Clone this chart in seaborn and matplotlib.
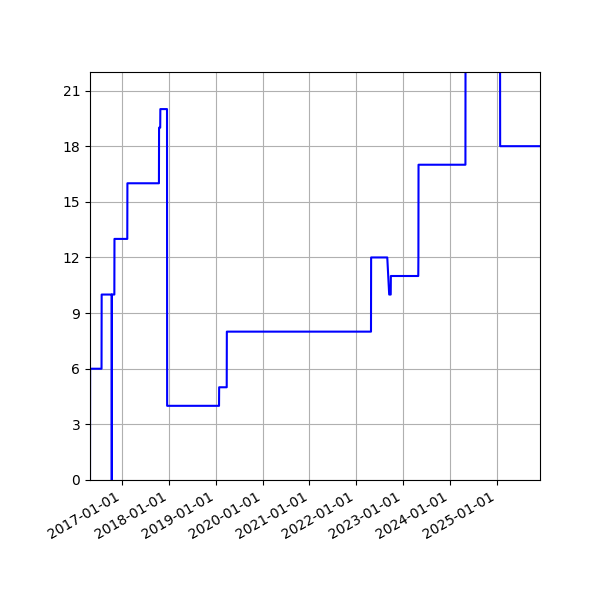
# ==========================
# Step series over time
# ==========================
import pandas as pd
import numpy as np
import matplotlib
matplotlib.use("Agg")
import matplotlib.pyplot as plt
import matplotlib.dates as mdates
import seaborn as sns

# ==========================
# Data
# ==========================
dates = [
    "2016-04-24", "2016-04-25", "2016-07-23", "2016-07-24",
    "2016-10-10", "2016-10-11", "2016-10-12", "2016-10-31",
    "2016-11-01", "2017-02-09", "2017-02-10", "2017-10-14",
    "2017-10-15", "2017-10-24", "2017-10-25", "2017-12-16",
    "2017-12-17", "2019-01-26", "2019-01-27", "2019-03-27",
    "2019-03-28", "2022-04-26", "2022-04-27", "2022-08-31",
    "2022-09-15", "2022-09-27", "2022-09-28", "2023-04-30",
    "2023-05-01", "2023-05-02", "2024-05-02", "2024-05-03",
    "2025-01-27", "2025-01-28", "2025-12-05",
]
values = [
    0, 6, 6, 10,
    10, 0, 10, 10,
    13, 13, 16, 16,
    19, 19, 20, 20,
    4, 4, 5, 5,
    8, 8, 12, 12,
    10, 10, 11, 11,
    12, 17, 17, 25,
    25, 18, 18,
]
y_ticks = list(range(0, 22, 3))

df = pd.DataFrame({"date": pd.to_datetime(dates), "value": values})

# ==========================
# Plot
# ==========================
fig, ax = plt.subplots(figsize=(6, 6), dpi=100)

sns.lineplot(
    data=df,
    x="date",
    y="value",
    estimator=None,
    sort=False,
    color="blue",
    linewidth=1.5,
    ax=ax
)

ax.set_xlim(df["date"].min(), df["date"].max())
ax.set_ylim(0, 22)
ax.set_yticks(y_ticks)

ax.xaxis.set_major_locator(mdates.YearLocator())
ax.xaxis.set_major_formatter(mdates.DateFormatter("%Y-%m-%d"))

ax.set_xlabel("")
ax.set_ylabel("")
ax.grid(True)

fig.autofmt_xdate()
fig.subplots_adjust(left=0.15, right=0.9, top=0.88, bottom=0.2)

plt.savefig("out.png", dpi=100)
